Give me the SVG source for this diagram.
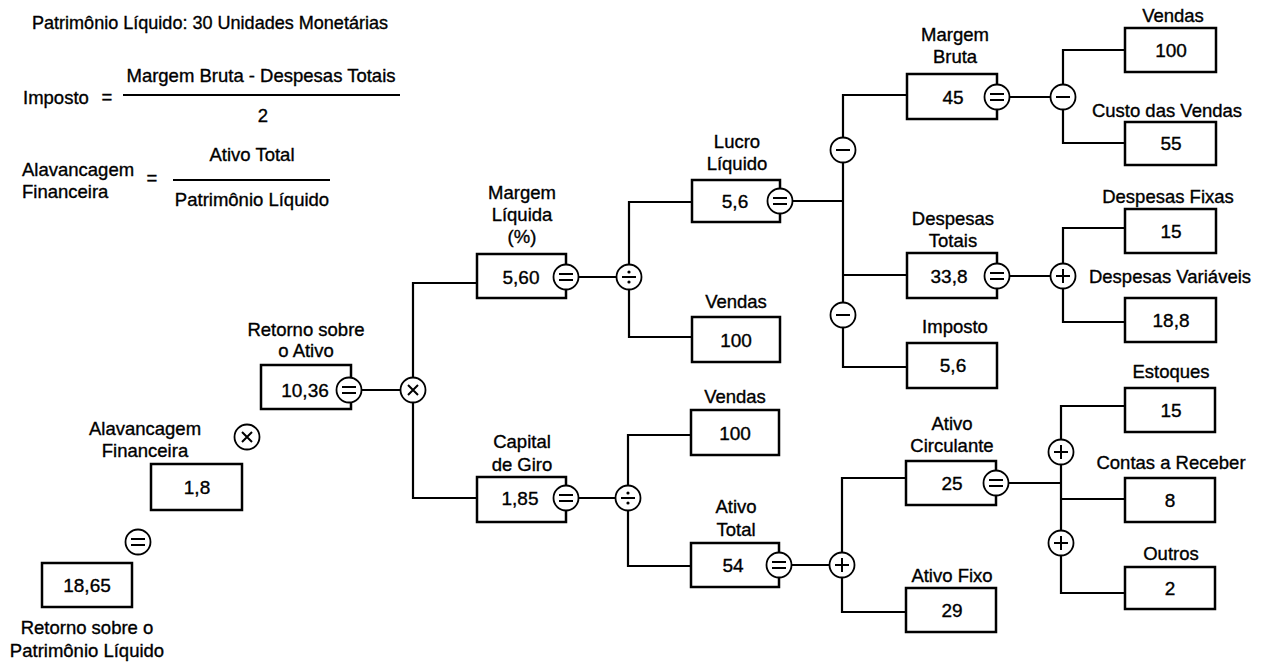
<svg xmlns="http://www.w3.org/2000/svg" xmlns:xlink="http://www.w3.org/1999/xlink" width="1262" height="664" viewBox="0 0 1262 664">
<style>
text{font-family:"Liberation Sans",Arial,sans-serif;font-size:18.5px;fill:#000;stroke:#000;stroke-width:0.35px}
.m{text-anchor:middle}
.v{font-size:19px;text-anchor:middle}
.b{fill:#fff;stroke:#000;stroke-width:2.5}
.c{fill:#fff;stroke:#000;stroke-width:1.8}
.s{stroke:#000;stroke-width:2;fill:none}
.ln{stroke:#000;stroke-width:2.2;fill:none}
</style>
<defs>
<g id="eq"><circle class="c" r="12.5"/><path class="s" d="M-7 -3H7M-7 3H7" stroke-width="2.4"/></g>
<g id="mi"><circle class="c" r="12.5"/><path class="s" d="M-7 0H7"/></g>
<g id="pl"><circle class="c" r="12.5"/><path class="s" d="M-7 0H7M0 -7V7"/></g>
<g id="mu"><circle class="c" r="12.5"/><path class="s" d="M-5 -5L5 5M-5 5L5 -5"/></g>
<g id="dv"><circle class="c" r="12.5"/><path class="s" d="M-7 0H7"/><circle r="1.6" cy="-5"/><circle r="1.6" cy="5"/></g>
</defs>
<rect width="1262" height="664" fill="#fff"/>

<g id="formulas">
<text x="32" y="29" textLength="356" lengthAdjust="spacingAndGlyphs">Patrimônio Líquido: 30 Unidades Monetárias</text>
<text x="23" y="104">Imposto</text>
<text x="107" y="103" class="m">=</text>
<text x="261" y="82" class="m">Margem Bruta - Despesas Totais</text>
<path class="ln" d="M123 95H400"/>
<text x="263" y="122" class="m">2</text>
<text x="22" y="176">Alavancagem</text>
<text x="22" y="198">Financeira</text>
<text x="152" y="184" class="m">=</text>
<text x="252" y="161" class="m">Ativo Total</text>
<path class="ln" d="M173 180H330"/>
<text x="252" y="206" class="m">Patrimônio Líquido</text>
</g>

<g id="connectors">
<path class="ln" d="M362 390H400M413 377V283H477M413 403V498H477"/>
<path class="ln" d="M579 277H616M629 264V202H692M629 290V337H692"/>
<path class="ln" d="M793 201H843M843 137V95H907M843 163V302M843 275H907M843 328V367H907"/>
<path class="ln" d="M1010 97H1050M1063 84V50H1125M1063 110V143H1125"/>
<path class="ln" d="M1010 276H1050M1063 263V228H1125M1063 289V322H1125"/>
<path class="ln" d="M579 498H615M628 485V435H691M628 511V566H691"/>
<path class="ln" d="M792 565H829M842 552V478H906M842 578V612H906" stroke-width="2.6"/>
<path class="ln" d="M1009 483H1061M1061 439V406H1125M1061 465V530M1061 499H1125M1061 556V593H1125"/>
</g>

<g id="roe">
<rect class="b" x="42" y="563" width="90" height="44"/>
<text x="87" y="592" class="v">18,65</text>
<text x="87" y="634" class="m">Retorno sobre o</text>
<text x="87" y="657" class="m">Patrimônio Líquido</text>
</g>
<g id="op-eq-roe"><use xlink:href="#eq" x="138" y="542"/></g>
<g id="alav">
<rect class="b" x="151" y="464" width="91" height="46"/>
<text x="197" y="494" class="v">1,8</text>
<text x="145" y="435" class="m">Alavancagem</text>
<text x="145" y="457" class="m">Financeira</text>
</g>
<g id="op-mul-roe"><use xlink:href="#mu" x="247" y="437"/></g>

<g id="roa">
<rect class="b" x="261" y="365" width="90" height="44"/>
<text x="305" y="397" class="v">10,36</text>
<text x="306" y="336" class="m">Retorno sobre</text>
<text x="306" y="357" class="m">o Ativo</text>
<use xlink:href="#eq" x="349" y="390"/>
</g>
<g id="op-mul"><use xlink:href="#mu" x="413" y="390"/></g>

<g id="margem-liquida">
<rect class="b" x="477" y="254" width="89" height="44"/>
<text x="521" y="284" class="v">5,60</text>
<text x="522" y="199" class="m">Margem</text>
<text x="522" y="221" class="m">Líquida</text>
<text x="522" y="243" class="m">(%)</text>
<use xlink:href="#eq" x="566" y="277"/>
</g>
<g id="op-div1"><use xlink:href="#dv" x="629" y="277"/></g>

<g id="capital-giro">
<rect class="b" x="477" y="477" width="89" height="45"/>
<text x="520" y="505" class="v">1,85</text>
<text x="522" y="448" class="m">Capital</text>
<text x="522" y="471" class="m">de Giro</text>
<use xlink:href="#eq" x="566" y="498"/>
</g>
<g id="op-div2"><use xlink:href="#dv" x="628" y="498"/></g>

<g id="lucro-liquido">
<rect class="b" x="692" y="180" width="88" height="42"/>
<text x="735" y="208" class="v">5,6</text>
<text x="737" y="148" class="m">Lucro</text>
<text x="737" y="170" class="m">Líquido</text>
<use xlink:href="#eq" x="780" y="201"/>
</g>
<g id="vendas-ml">
<rect class="b" x="692" y="317" width="88" height="45"/>
<text x="736" y="347" class="v">100</text>
<text x="736" y="308" class="m">Vendas</text>
</g>
<g id="op-minus1"><use xlink:href="#mi" x="843" y="150"/></g>
<g id="op-minus2"><use xlink:href="#mi" x="843" y="315"/></g>

<g id="margem-bruta">
<rect class="b" x="907" y="74" width="90" height="45"/>
<text x="953" y="104" class="v">45</text>
<text x="955" y="41" class="m">Margem</text>
<text x="955" y="63" class="m">Bruta</text>
<use xlink:href="#eq" x="997" y="97"/>
</g>
<g id="op-minus3"><use xlink:href="#mi" x="1063" y="97"/></g>
<g id="vendas-mb">
<rect class="b" x="1125" y="28" width="91" height="44"/>
<text x="1171" y="57" class="v">100</text>
<text x="1173" y="22" class="m">Vendas</text>
</g>
<g id="custo-vendas">
<rect class="b" x="1125" y="122" width="91" height="43"/>
<text x="1171" y="150" class="v">55</text>
<text x="1167" y="117" class="m">Custo das Vendas</text>
</g>

<g id="despesas-totais">
<rect class="b" x="907" y="253" width="90" height="45"/>
<text x="949" y="283" class="v">33,8</text>
<text x="953" y="225" class="m">Despesas</text>
<text x="953" y="247" class="m">Totais</text>
<use xlink:href="#eq" x="997" y="276"/>
</g>
<g id="op-plus1"><use xlink:href="#pl" x="1063" y="276"/></g>
<g id="despesas-fixas">
<rect class="b" x="1125" y="209" width="91" height="44"/>
<text x="1171" y="238" class="v">15</text>
<text x="1168" y="203" class="m">Despesas Fixas</text>
</g>
<g id="despesas-variaveis">
<rect class="b" x="1125" y="298" width="91" height="44"/>
<text x="1171" y="327" class="v">18,8</text>
<text x="1170" y="283" class="m">Despesas Variáveis</text>
</g>

<g id="imposto">
<rect class="b" x="907" y="343" width="90" height="45"/>
<text x="953" y="372" class="v">5,6</text>
<text x="955" y="333" class="m">Imposto</text>
</g>

<g id="vendas-cg">
<rect class="b" x="691" y="410" width="88" height="45"/>
<text x="735" y="440" class="v">100</text>
<text x="735" y="403" class="m">Vendas</text>
</g>
<g id="ativo-total">
<rect class="b" x="691" y="543" width="88" height="44"/>
<text x="733" y="572" class="v">54</text>
<text x="736" y="513" class="m">Ativo</text>
<text x="736" y="536" class="m">Total</text>
<use xlink:href="#eq" x="779" y="565"/>
</g>
<g id="op-plus2"><use xlink:href="#pl" x="842" y="565"/></g>

<g id="ativo-circulante">
<rect class="b" x="906" y="461" width="90" height="44"/>
<text x="952" y="490" class="v">25</text>
<text x="952" y="430" class="m">Ativo</text>
<text x="952" y="452" class="m">Circulante</text>
<use xlink:href="#eq" x="996" y="483"/>
</g>
<g id="ativo-fixo">
<rect class="b" x="906" y="588" width="90" height="44"/>
<text x="952" y="617" class="v">29</text>
<text x="952" y="582" class="m">Ativo Fixo</text>
</g>
<g id="op-plus3"><use xlink:href="#pl" x="1061" y="452"/></g>
<g id="op-plus4"><use xlink:href="#pl" x="1061" y="543"/></g>

<g id="estoques">
<rect class="b" x="1125" y="388" width="90" height="44"/>
<text x="1171" y="417" class="v">15</text>
<text x="1171" y="378" class="m">Estoques</text>
</g>
<g id="contas-receber">
<rect class="b" x="1125" y="478" width="90" height="44"/>
<text x="1170" y="507" class="v">8</text>
<text x="1171" y="469" class="m">Contas a Receber</text>
</g>
<g id="outros">
<rect class="b" x="1125" y="567" width="90" height="42"/>
<text x="1170" y="595" class="v">2</text>
<text x="1171" y="560" class="m">Outros</text>
</g>
</svg>
